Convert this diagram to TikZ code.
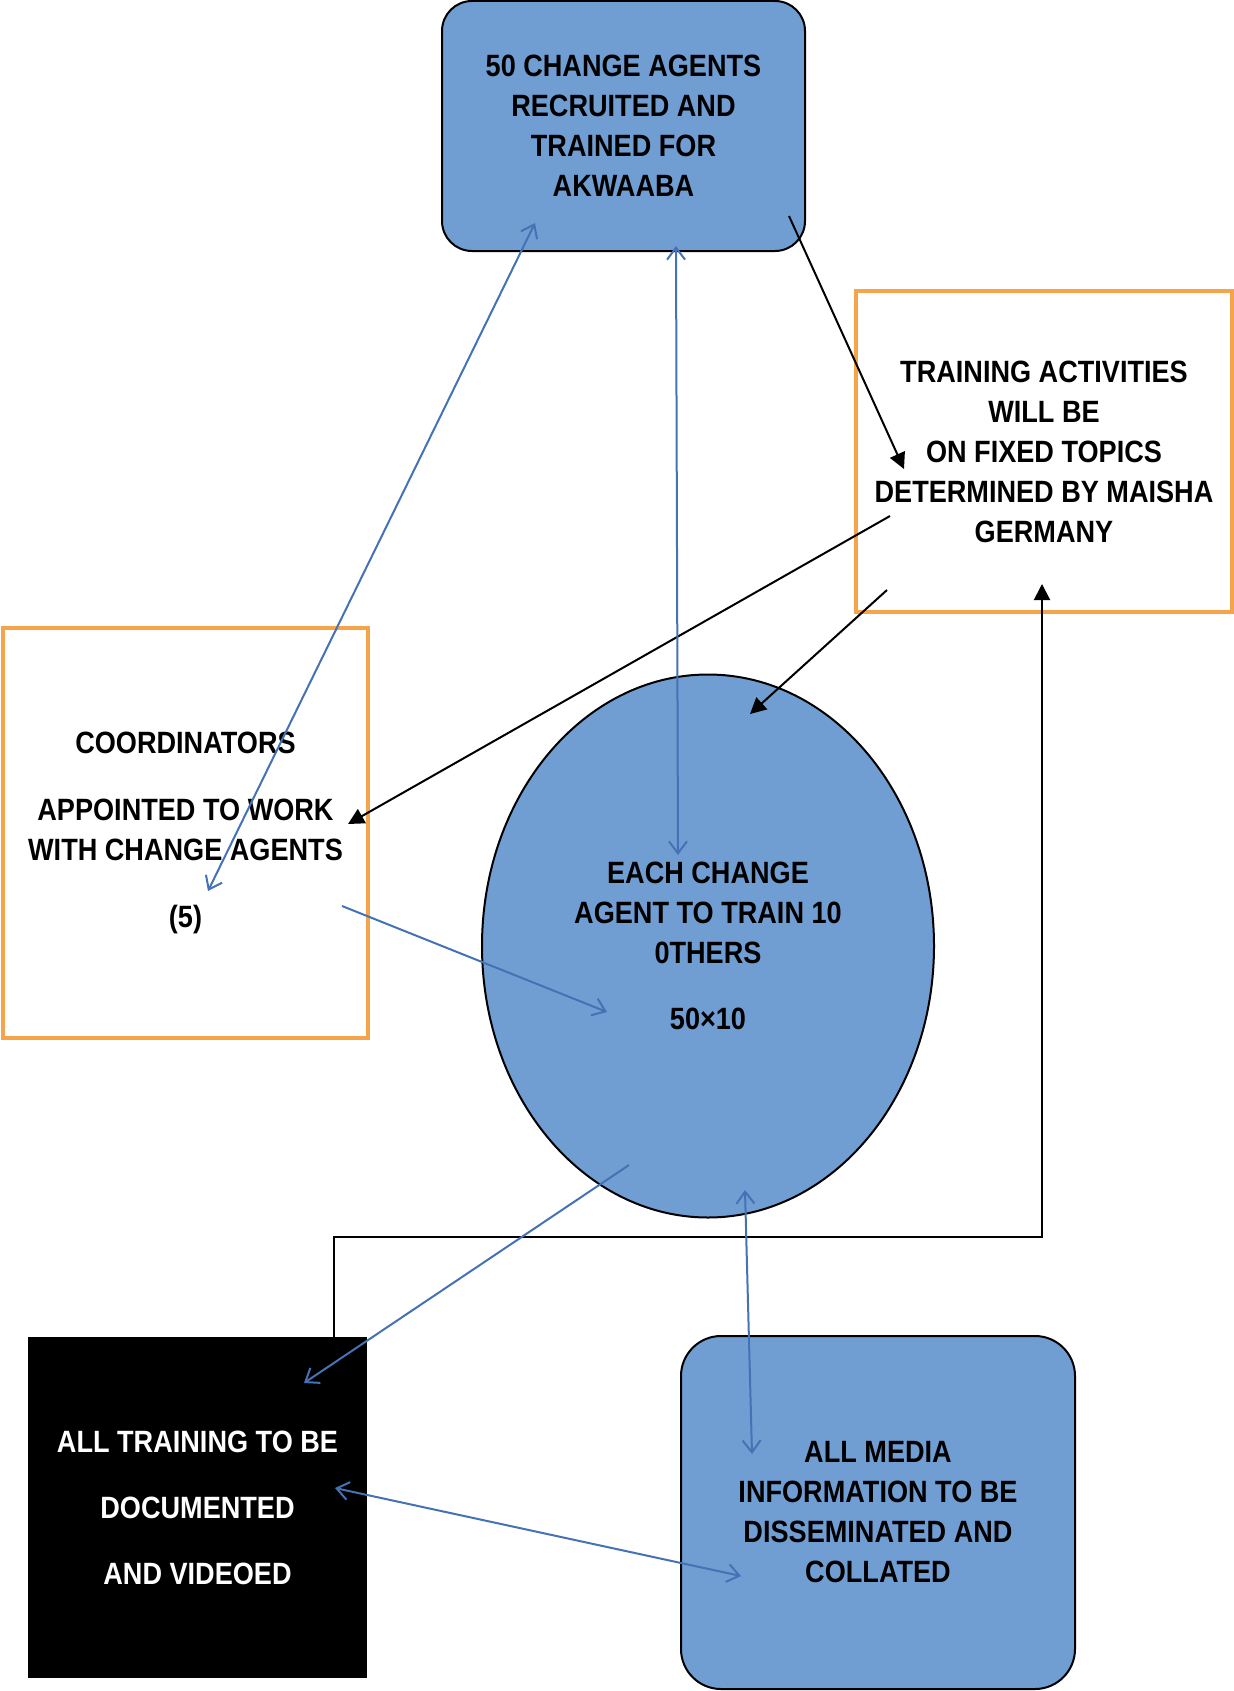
\documentclass[tikz,border=0pt]{standalone}
\usepackage{fontspec}
\setmainfont{Liberation Sans}[FakeStretch=0.88]
\usepackage{tikz}
\usetikzlibrary{arrows.meta,shapes.geometric}
\definecolor{boxblue}{RGB}{112,158,211}
\definecolor{boxorange}{RGB}{245,164,76}
\definecolor{linkblue}{RGB}{68,114,180}
\tikzset{
	every node/.style={font=\bfseries\fontsize{15.4}{20}\selectfont, align=center, inner sep=0pt},
	bluebox/.style={draw, line width=1pt, fill=boxblue, rounded corners=#1},
	orangebox/.style={draw=boxorange, line width=2pt, fill=white},
	blacklink/.style={draw, line width=1pt, -{Triangle[length=8pt, width=8pt]}},
	bluelink/.style={draw=linkblue, line width=1pt, >={Straight Barb[length=6pt, width=9pt]}}
}

\begin{document}
\begin{tikzpicture}[x=0.5pt, y=-0.5pt]
\useasboundingbox (0,0) rectangle (1234,1691);
\node[bluebox=15pt, minimum width=181.5pt, minimum height=125pt] (agents) at (623.5,126) {50 CHANGE AGENTS\\RECRUITED AND\\TRAINED FOR\\AKWAABA};
\node[orangebox, minimum width=188pt, minimum height=160.5pt] (topics) at (1044,451.5) {TRAINING ACTIVITIES\\WILL BE\\ON FIXED TOPICS\\DETERMINED BY MAISHA\\GERMANY};
\node[orangebox, minimum width=182.5pt, minimum height=205pt] (coord) at (185.5,833) {COORDINATORS\\[13.5pt]APPOINTED TO WORK\\WITH CHANGE AGENTS\\[13.5pt](5)};
\node[draw, line width=1pt, fill=boxblue, ellipse, minimum width=226pt, minimum height=271.5pt] (train) at (708,946) {EACH CHANGE\\AGENT TO TRAIN 10\\0THERS\\[13pt]50×10};
\node[fill=black, text=white, minimum width=169.5pt, minimum height=170.5pt] (docs) at (197.5,1507.5) {ALL TRAINING TO BE\\[13pt]DOCUMENTED\\[13pt]AND VIDEOED};
\node[bluebox=20pt, minimum width=197pt, minimum height=176.5pt] (media) at (878,1512.5) {ALL MEDIA\\INFORMATION TO BE\\DISSEMINATED AND\\COLLATED};

\coordinate (agentsA) at (535,223);
\coordinate (coordA) at (208,891);
\coordinate (agentsB) at (676,246);
\coordinate (trainB) at (678,855);
\coordinate (coordC) at (342,906);
\coordinate (trainC) at (607,1012);
\coordinate (trainD) at (629,1165);
\coordinate (docsD) at (304,1383);
\coordinate (trainE) at (745,1190);
\coordinate (mediaE) at (752,1454);
\coordinate (docsF) at (335,1488);
\coordinate (mediaF) at (741,1576);
\coordinate (agentsK) at (789,216);
\coordinate (topicsK) at (904,469);
\coordinate (topicsL) at (890,516);
\coordinate (coordL) at (348,824);
\coordinate (topicsM) at (887,590);
\coordinate (trainM) at (750,714);
\coordinate (topicsN) at (1042,584);
\coordinate (bend) at (1042,1237);

\draw[blacklink] (agentsK) -- (topicsK);
\draw[blacklink] (topicsL) -- (coordL);
\draw[blacklink] (topicsM) -- (trainM);
\draw[blacklink] ([xshift=68.25pt]docs.north) |- (bend) -- (topicsN);

\draw[bluelink, <->] (agentsA) -- (coordA);
\draw[bluelink, <->] (agentsB) -- (trainB);
\draw[bluelink, ->] (coordC) -- (trainC);
\draw[bluelink, ->] (trainD) -- (docsD);
\draw[bluelink, <->] (trainE) -- (mediaE);
\draw[bluelink, <->] (docsF) -- (mediaF);
\end{tikzpicture}
\end{document}
